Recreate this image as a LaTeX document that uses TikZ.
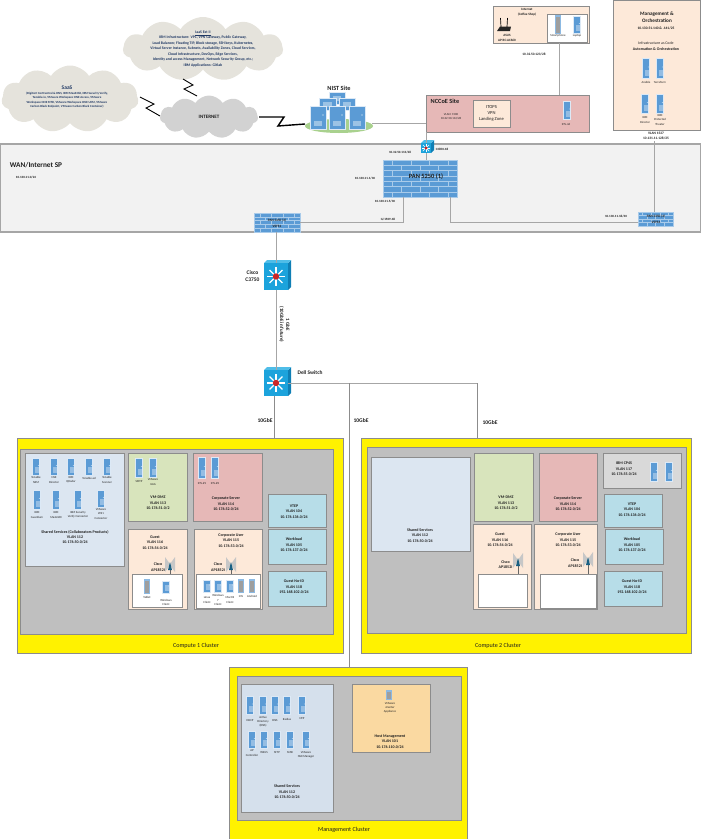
\documentclass[tikz,border=0pt]{standalone}
\usepackage{fontspec}
\setmainfont{Carlito}
\usetikzlibrary{shapes.symbols,calc}
\definecolor{srvblue}{HTML}{5B9BD5}
\definecolor{halo}{HTML}{DCE9F6}
\definecolor{linegray}{HTML}{A6A6A6}
\definecolor{edgegray}{HTML}{8C8C8C}
\definecolor{peach}{HTML}{FDE9D9}
\definecolor{rosebox}{HTML}{E6B8B7}
\definecolor{greenbox}{HTML}{D8E4BC}
\definecolor{paleblue}{HTML}{DCE6F1}
\definecolor{mgmtblue}{HTML}{D5E0EC}
\definecolor{tealbox}{HTML}{B7DDE8}
\definecolor{orangebox}{HTML}{FAD9A1}
\definecolor{clusgray}{HTML}{BFBFBF}
\definecolor{cloudtan}{HTML}{E5E3DC}
\definecolor{cloudgray}{HTML}{D2D2D2}
\definecolor{navytext}{HTML}{1F3864}
\definecolor{swcyan}{HTML}{1CA3DC}
\definecolor{swdark}{HTML}{0F7FB5}
\definecolor{swtop}{HTML}{4FBDE8}
\definecolor{grassgreen}{HTML}{A9D18E}
\definecolor{brick}{HTML}{A9CBEA}
\newcounter{tn}
\tikzset{
  boxbase/.style={draw=edgegray,line width=0.9pt,inner sep=0pt,outer sep=0pt},
  peachbox/.style={boxbase,fill=peach},
  rosyb/.style={boxbase,fill=rosebox},
  greenb/.style={boxbase,fill=greenbox},
  pale/.style={boxbase,fill=paleblue},
  teal/.style={boxbase,fill=tealbox},
  orangeb/.style={boxbase,fill=orangebox},
  whitebox/.style={boxbase,fill=white},
  graybox/.style={boxbase,fill=black!15},
  yellowbox/.style={draw=edgegray,line width=0.7pt,fill=yellow,inner sep=0pt,outer sep=0pt},
  clusterbox/.style={draw=edgegray,line width=0.7pt,fill=clusgray,inner sep=0pt,outer sep=0pt},
  wanbox/.style={draw=linegray,line width=1.1pt,fill=black!5,inner sep=0pt,outer sep=0pt},
  link/.style={draw=linegray,line width=0.9pt},
  thinlink/.style={draw=edgegray,line width=0.6pt},
  bolt/.style={draw=black,line width=0.9pt,line join=miter},
  boltheavy/.style={draw=black,line width=1.4pt,line join=miter},
  txt/.style={inner sep=0pt,outer sep=0pt,align=center,text=black!88},
  srvbody/.style={fill=srvblue,draw=halo,line width=0.7pt},
  brickline/.style={draw=brick,line width=.35pt},
  cloudbase/.style={cloud,cloud puffs=11,cloud puff arc=115,aspect=2,cloud ignores aspect,inner sep=0pt,outer sep=0pt},
}
\newcommand\bx[6]{% name x1 y1 x2 y2 style
  \pgfmathsetmacro\bxw{#4-#2}\pgfmathsetmacro\bxh{#5-#3}
  \node[#6,minimum width=\bxw pt,minimum height=\bxh pt] (#1) at ({(#2+#4)/2},{(#3+#5)/2}) {};}
\newcommand\tx[5]{% x y size lead text
  \stepcounter{tn}\node[txt,font=\fontsize{#3}{#4}\selectfont] (t\thetn) at (#1,#2) {#5};}
\newcommand\bt[5]{% bold
  \stepcounter{tn}\node[txt,font=\fontsize{#3}{#4}\selectfont\bfseries] (t\thetn) at (#1,#2) {#5};}
\newcommand\nv[5]{% navy bold
  \stepcounter{tn}\node[txt,text=navytext,font=\fontsize{#3}{#4}\selectfont\bfseries] (t\thetn) at (#1,#2) {#5};}
\newcommand\vl[3]{\bt{#1}{#2}{4}{5.4}{#3}}
\newcommand\lb[3]{\tx{#1}{#2}{3}{4.1}{#3}}
\newcommand\srv[3]{% cx top bottom
  \draw[srvbody] (#1-3.7,#2) rectangle (#1+3.7,#3);
  \fill[white,opacity=.35] (#1-1.5,#3-8) rectangle (#1+2.7,#3-2);
  \fill[white] (#1+2.3,{(#2+#3)/2-1}) circle (.4);}
\newcommand\dev[3]{% gray client device: cx top bottom
  \fill[srvblue!70] (#1-2.6,#2-.6) rectangle (#1+2.6,#3+.6);
  \fill[black!38] (#1-2.2,#2+.5) rectangle (#1+2.2,#3-.5);}
\newcommand\bigsrv[4]{% x1 y1 x2 y2
  \draw[fill=srvblue,draw=halo,line width=.7pt] (#1,#2) rectangle (#3,#4);
  \fill[white,opacity=.4] ({#1+4},{#4-8}) rectangle ({#3-4},{#4-3});
  \fill[white] ({#3-3},{#2+9}) circle (.7);}
\newcommand\swt[5]{% name x1 y1 x2 y2
  \pgfmathsetmacro\bxw{#4-#2-3}\pgfmathsetmacro\bxh{#5-#3-3}
  \fill[swdark] (#4-3,#3+3) -- (#4,#3) -- (#4,#5-3) -- (#4-3,#5) -- cycle;
  \fill[swtop] (#2,#3+3) -- (#2+3,#3) -- (#4,#3) -- (#4-3,#3+3) -- cycle;
  \node[fill=swcyan,inner sep=0pt,outer sep=0pt,minimum width=\bxw pt,minimum height=\bxh pt] (#1) at ({(#2+#4-3)/2},{(#3+#5+3)/2}) {};
  \pgfmathsetmacro\armw{(#4-#2)*.045}
  \foreach \a in {0,45,...,315} {\draw[white,line width=\armw pt] (#1.center) -- ++(\a:{(#4-#2)*.34});}
  \fill[red!75!black!80!pink] (#1.center) circle ({(#4-#2)*.12});}
\newcommand\fw[7]{% name x1 y1 x2 y2 rows cols
  \bx{#1}{#2}{#3}{#4}{#5}{fill=srvblue,draw=brick,line width=.4pt,inner sep=0pt,outer sep=0pt}
  \pgfmathsetmacro\rowh{(#5-#3)/#6}\pgfmathsetmacro\colw{(#4-#2)/#7}
  \foreach \r in {1,...,#6} {
    \pgfmathsetmacro\yy{#3+\r*\rowh}
    \pgfmathsetmacro\ya{\yy-\rowh}
    \ifnum\r<#6\relax \draw[brickline] (#2,\yy) -- (#4,\yy);\fi
    \pgfmathtruncatemacro\odd{mod(\r,2)}
    \foreach \c in {0,...,#7} {
      \pgfmathsetmacro\xx{#2+(\c+0.5*\odd)*\colw}
      \ifdim\xx pt<#4pt\relax \ifdim\xx pt>#2pt\relax \draw[brickline] (\xx,\ya) -- (\xx,\yy);\fi\fi
    }
  }}
\newcommand\ant[3]{% cx top bottom
  \fill[black!22] (#1-5,#2) -- (#1,#2+7) -- (#1+5,#2) -- (#1+5,#2+15) -- (#1,#2+8) -- (#1-5,#2+15) -- cycle;
  \fill[navytext!80!cyan] (#1,#2+5) -- (#1+2,#2+13) -- (#1-2,#2+13) -- cycle;
  \draw[black!60,line width=.5pt] (#1,#2+13) -- (#1,#3);}
\begin{document}
\begin{tikzpicture}[x=1pt,y=-1pt]
\useasboundingbox (0,0) rectangle (701,839);
% ---- containers
\node[cloudbase,fill=cloudtan,minimum width=137pt,minimum height=67pt] (saas) at (70,99) {};
\node[cloudbase,fill=cloudtan,minimum width=160pt,minimum height=64pt] (iaas) at (203,49) {};
\node[cloudbase,fill=cloudgray,minimum width=98pt,minimum height=43pt] (internet) at (209,117) {};
\fill[grassgreen] (339,126) ellipse (34 and 7);
\bx{wan}{0}{144}{701}{232}{wanbox}
\bx{nccoe}{426}{95}{589}{132}{rosyb}
\bx{itops}{473}{100}{510}{127}{peachbox}
\bx{coffee}{493}{6}{589}{43}{peachbox}
\bx{coffeein}{547}{14}{587}{42}{whitebox}
\bx{mgmt}{613}{0}{700}{130}{peachbox}
% ---- connectors
\coordinate (nistport) at (372,123);
\coordinate (boltA1) at (154,104);\coordinate (boltA2) at (146,108);
\coordinate (saasp) at (140,97);\coordinate (inetA) at (160,116);
\coordinate (boltB1) at (193,85);\coordinate (boltB2) at (184,89);
\coordinate (iaasp) at (183,79);\coordinate (inetB) at (197,96);
\coordinate (inetC) at (259,117);\coordinate (boltC1) at (284,117);\coordinate (boltC2) at (278,126);\coordinate (nistC) at (305,124);
\draw[bolt] (saasp) -- (boltA1) -- (boltA2) -- (inetA);
\draw[bolt] (iaasp) -- (boltB1) -- (boltB2) -- (inetB);
\draw[boltheavy] (inetC) -- (boltC1) -- (boltC2) -- (nistC);
\draw[link] (nistport) -- (nistport -| nccoe.west);
\coordinate (coffeeX) at (559,70);
\draw[link] (coffee.south -| coffeeX) -- (nccoe.north -| coffeeX);
\coordinate (mgmtX) at (654,170);
% ---- switches and firewalls
\swt{c3850}{421}{140}{434}{153}
\fw{pan1}{383}{160}{457}{197}{7}{4}
\draw[link] (c3850 |- nccoe.south) -- (c3850.north);
\draw[link] (c3850) -- (c3850 |- pan1.north);
\fw{pan2}{254}{213}{300}{232}{5}{4}
\fw{pan3}{638}{212}{673}{226}{4}{4}
\coordinate (panA) at (403,222);\coordinate (panB) at (450,222);
\draw[link] (pan1.south -| panA) -- (panA) -- (panA -| pan2.east);
\draw[link] (pan1.south -| panB) -- (panB) -- (panB -| pan3.west);
\draw[link] (mgmtX |- 0,141) -- (mgmtX |- pan3.north);
\swt{cisco}{264}{260}{291}{290}
\swt{dell}{264}{367}{291}{396}
\draw[link] (pan2.south -| cisco) -- (cisco.north);
\draw[link] (cisco) -- (dell);
% ---- clusters
\bx{c1y}{17}{438}{343}{653}{yellowbox}
\bx{c1g}{20}{449}{333}{634}{clusterbox}
\bx{c2y}{361}{438}{691}{653}{yellowbox}
\bx{c2g}{367}{447}{686}{633}{clusterbox}
\bx{c3y}{229}{667}{467}{839}{yellowbox}
\bx{c3g}{237}{676}{461}{820}{clusterbox}
\coordinate (midX) at (349,383);\coordinate (rightX) at (477,383);\coordinate (leftX) at (274,400);
\draw[link] (dell.east |- midX) -- (rightX);
\draw[thinlink] (midX) -- (midX |- c3y.north);
\draw[thinlink] (rightX) -- (rightX |- c2y.north);
\draw[thinlink] (dell.south -| leftX) -- (leftX |- c1y.north);
% ---- cluster 1 boxes
\bx{a1}{25}{453}{124}{566}{pale}
\bx{a2}{128}{453}{187}{521}{greenb}
\bx{a3}{193}{453}{262}{521}{rosyb}
\bx{a4}{128}{529}{187}{609}{peachbox}
\bx{a5}{194}{529}{262}{609}{peachbox}
\bx{a6}{268}{494}{326}{527}{teal}
\bx{a7}{268}{529}{326}{564}{teal}
\bx{a8}{268}{571}{326}{606}{teal}
\bx{a4w}{132}{574}{182}{607}{whitebox}
\bx{a5w}{196}{574}{260}{608}{whitebox}
% ---- cluster 2 boxes
\bx{b1}{371}{457}{470}{551}{pale}
\bx{b2}{474}{453}{533}{521}{greenb}
\bx{b3}{539}{453}{597}{521}{rosyb}
\bx{b4}{473}{524}{531}{609}{peachbox}
\bx{b5}{534}{524}{597}{609}{peachbox}
\bx{b9}{603}{453}{681}{488}{graybox}
\bx{b6}{604}{494}{662}{527}{teal}
\bx{b7}{605}{529}{663}{564}{teal}
\bx{b8}{604}{571}{662}{606}{teal}
\bx{b4w}{478}{574}{527}{607}{whitebox}
\bx{b5w}{540}{574}{596}{608}{whitebox}
% ---- management boxes
\bx{m1}{241}{684}{333}{812}{boxbase,fill=mgmtblue}
\bx{m2}{352}{684}{430}{752}{orangeb}
% ---- cloud texts
\nv{67}{88}{5.5}{6}{SaaS}
\nv{67}{100}{3.1}{4.2}{(DigiCert CertCentral \& DNS, IBM MaaS360, IBM Security Verify,\\Tenable.io, VMware Workspace ONE Access, VMware\\Workspace ONE MTD, VMware Workspace ONE UEM, VMware\\Carbon Black Endpoint, VMware Carbon Black Container)}
\nv{203}{49}{3.8}{5.5}{\underline{IaaS Ext II}\\IBM Infrastructure:  VPC, VPN Gateway, Public Gateway,\\Load Balancer, Floating TIP, Block storage, SSH keys, Kubernetes,\\Virtual Server Instance, Subnets, Availability Zones, Cloud Services,\\Cloud Infrastructure, DevOps, Edge Services,\\Identity and access Management,  Network Security Group, etc.;\\IBM Applications:  Gitlab}
\bt{209}{117}{5}{6}{INTERNET}
% ---- NIST
\bt{339}{88}{6.3}{7}{NIST Site}
\bigsrv{329}{92}{345}{104}
\bigsrv{319}{98}{336}{110}
\bigsrv{339}{98}{355}{110}
\bigsrv{310}{106}{326}{129}
\bigsrv{329}{106}{345}{129}
\bigsrv{349}{106}{365}{129}
% ---- NCCoE
\bt{445}{101}{6.3}{7}{NCCoE Site}
\lb{451}{117}{VLAN: 1500\\10.32.50.112/28}
\tx{491.5}{113.5}{4.6}{6.2}{ITOPS\\VPN\\Landing Zone}
\srv{567}{101}{119}
\lb{566}{124}{SYS-46}
\bt{534}{54}{3.4}{4}{10.32.50.123/28}
% ---- Coffee shop
\bt{527}{12}{3.3}{5.4}{Internet\\(Coffee Shop)}
\fill[black!85] (497,31) -- (500,26.5) -- (511,26.5) -- (510,31) -- cycle;
\draw[black,line width=.7pt] (501,27) -- (500.5,18) (507,27) -- (507.5,18);
\bt{507}{37.5}{3.3}{5}{ASUS\\AP RC-AC660}
\dev{558}{16}{33}
\srv{577}{16}{33}
\lb{558}{36}{Smartphone}
\lb{577}{36}{Laptop}
% ---- management and orchestration
\bt{657}{17.5}{5.2}{7}{Management \&\\Orchestration}
\bt{656}{28}{3.6}{4}{10.130.51.140 \& .141/25}
\tx{656}{46}{3.9}{6.3}{Infrastructure as Code\\\bfseries Automation \& Orchestration}
\srv{646}{58}{78}
\srv{660}{58}{78}
\lb{646}{82}{Ansible}
\lb{660}{82}{Terraform}
\srv{645}{94}{113}
\srv{660}{94}{113}
\lb{645}{120}{IBM\\Director}
\lb{660}{120}{IBM\\Protected\\Theater}
\bt{656}{136}{3.5}{5.6}{VLAN 1527\\10.131.11.128/25}
% ---- WAN labels
\bt{36}{165}{7.3}{8}{WAN/Internet SP}
\bt{26}{177}{3.2}{4}{10.130.11.0/24}
\bt{442}{149}{3.2}{4}{C3850-48}
\bt{400}{152}{3.2}{4}{10.32.50.113/28}
\bt{426}{177}{6.4}{7}{PAN 5250 (1)}
\bt{365}{178}{3.2}{4}{10.130.11.1/30}
\bt{385}{201}{3.2}{4}{10.130.11.5/30}
\bt{388}{219}{3.2}{4}{G/1509-48}
\bt{277}{223}{3.4}{5.6}{PAN 5250 (2)\\VSYS1}
\bt{656}{219}{3.4}{5.6}{PAN 5250 (3)\\VSYS4}
\bt{616}{216}{3.2}{4}{10.130.11.18/30}
% ---- switch labels
\bt{252.5}{276}{5.5}{7.8}{Cisco\\C3750}
\bt{310}{372.5}{5.4}{6}{Dell Switch}
\stepcounter{tn}\node[txt,rotate=-90,font=\fontsize{5}{6}\selectfont\bfseries] (t\thetn) at (284.5,324.5) {1 GbE\\(10GbE in future)};
\bt{265}{420.5}{5.6}{6}{10GbE}
\bt{361}{420.5}{5.6}{6}{10GbE}
\bt{490}{422.5}{5.6}{6}{10GbE}
% ---- cluster names
\tx{196}{646}{6.1}{7}{Compute 1 Cluster}
\tx{498}{646}{6.1}{7}{Compute 2 Cluster}
\tx{344}{830}{6.1}{7}{Management Cluster}
% ---- compute 1 contents
\foreach \cx in {36,54,71,89,107} {\srv{\cx}{458}{475}}
\lb{36}{480}{Tenable\\NSM}
\lb{54}{480}{NSX\\Director}
\lb{71}{480}{IBM\\QRadar}
\lb{89}{478}{Tenable.ad}
\lb{107}{480}{Tenable\\Scanner}
\srv{37}{490}{509}\srv{56}{490}{509}\srv{78}{490}{509}\srv{101}{490}{507}
\lb{37}{515}{IBM\\Guardium}
\lb{56}{515}{IBM\\MaaS360}
\lb{78}{515}{IBM Security\\Verify Connector}
\lb{101}{514}{VMware\\WS1\\Connector}
\vl{75}{537}{Shared Services (Collaborators Products)\\VLAN 112\\10.176.50.0/24}
\srv{139}{458}{477}\srv{153}{458}{477}
\lb{139}{482}{SMTP}
\lb{153}{482}{VMware\\UAG}
\vl{158}{503}{VM-DMZ\\VLAN 113\\10.176.51.0/2}
\srv{202}{457}{478}\srv{215}{457}{478}
\lb{202}{483}{SYS-\#1}
\lb{215}{483}{SYS-\#2}
\vl{226}{504}{Corporate Server\\VLAN 114\\10.176.52.0/24}
\vl{155}{542.5}{Guest\\VLAN 116\\10.176.54.0/24}
\vl{158}{567}{Cisco\\AP1852I}
\ant{170}{557}{574}
\dev{147}{580}{593}\srv{166}{581}{593}
\lb{147}{597}{Tablet}
\lb{166}{602.5}{Windows\\Client}
\vl{231}{540.5}{Corporate User\\VLAN 115\\10.176.53.0/24}
\vl{218}{567}{Cisco\\AP1852I}
\ant{231}{557}{574}
\srv{207}{580}{592}\srv{218}{580}{592}\srv{230}{580}{592}\dev{241}{580}{592}\dev{252}{580}{592}
\lb{207}{600}{Linux\\Client}
\lb{218}{600}{Windows\\7\\Client}
\lb{230}{600}{MacOS\\Client}
\lb{241}{596}{iOS}
\lb{252}{596}{Android}
\vl{294}{511.5}{VTEP\\VLAN 104\\10.176.136.0/24}
\vl{294}{545}{Workload\\VLAN 105\\10.176.137.0/24}
\vl{294}{587}{Guest No-ID\\VLAN 118\\192.168.102.0/24}
% ---- compute 2 contents
\vl{420}{535.5}{Shared Services\\VLAN 112\\10.176.50.0/24}
\vl{506}{503}{VM-DMZ\\VLAN 113\\10.176.51.0/2}
\vl{568}{504}{Corporate Server\\VLAN 114\\10.176.52.0/24}
\vl{500}{540}{Guest\\VLAN 116\\10.176.54.0/24}
\vl{505.5}{564.5}{Cisco\\AP1852I}
\ant{518}{553}{574}
\vl{568}{540}{Corporate User\\VLAN 115\\10.176.53.0/24}
\vl{575}{563}{Cisco\\AP1852I}
\ant{588}{552}{574}
\vl{624}{469}{IBM CP4S\\VLAN 117\\10.176.55.0/24}
\srv{654}{462}{481}\srv{669}{462}{481}
\vl{632}{509.5}{VTEP\\VLAN 104\\10.176.136.0/24}
\vl{632}{545}{Workload\\VLAN 105\\10.176.137.0/24}
\vl{632}{587}{Guest No-ID\\VLAN 118\\192.168.102.0/24}
% ---- management contents
\foreach \cx in {250,263,275,287,302} {\srv{\cx}{696}{714}}
\lb{250}{721}{DHCP}
\lb{263}{722}{Active\\Directory\\(DNS)}
\lb{275}{721}{DNS}
\lb{287}{719}{Radius}
\lb{302}{719}{NTP}
\foreach \cx in {252,264,277,290,306} {\srv{\cx}{731}{748}}
\lb{252}{753}{AP\\Controller}
\lb{264}{753}{WSUS}
\lb{277}{753}{SFTP}
\lb{290}{753}{SMB}
\lb{306}{755}{VMware\\NSX Manager}
\vl{287}{792}{Shared Services\\VLAN 112\\10.176.50.0/24}
\dev{389}{691}{699}
\lb{390}{708}{VMware\\vCenter\\Appliance}
\vl{390}{741.5}{Host Management\\VLAN 101\\10.176.110.0/24}
\end{tikzpicture}
\end{document}
